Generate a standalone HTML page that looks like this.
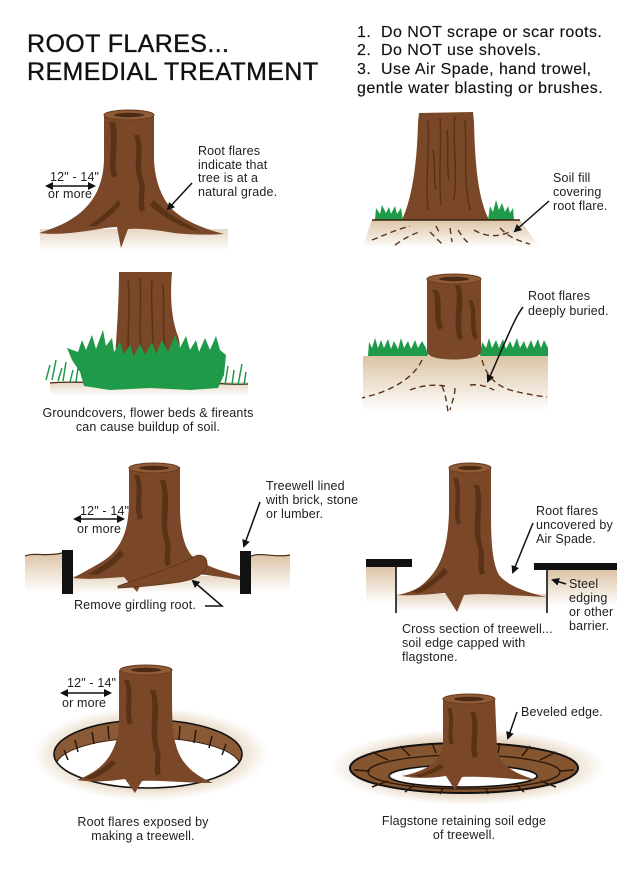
<!DOCTYPE html>
<html><head><meta charset="utf-8"><style>
html,body{margin:0;padding:0;background:#fff;}
svg{display:block;}
text{font-family:"Liberation Sans",sans-serif;fill:#1e1e1e;}
.lb{font-size:12.5px;letter-spacing:0.15px;}
.ttl{font-size:25px;fill:#111;stroke:#111;stroke-width:0.35;letter-spacing:0.4px;}
.lst{font-size:16px;fill:#111;letter-spacing:0.45px;stroke:#111;stroke-width:0.15;}
.ar{stroke:#111;stroke-width:1.5;fill:none;}
.tr{fill:#7a4828;}
.dk{fill:#5a3217;}
.tp{fill:#8e5b36;stroke:#6a3d1e;stroke-width:1;}
.ti{fill:#4a2a12;}
.gr{fill:#1f9a48;}
.dr{stroke:#5a3217;stroke-width:1.4;fill:none;stroke-dasharray:6 4;}
</style></head><body>
<svg width="640" height="873" viewBox="0 0 640 873" xmlns="http://www.w3.org/2000/svg">
<defs>
<marker id="ah" markerWidth="8" markerHeight="8" refX="6" refY="4" orient="auto" markerUnits="userSpaceOnUse">
<path d="M0,0 L8,4 L0,8 Z" fill="#111"/></marker>
<marker id="ah2" markerWidth="8" markerHeight="8" refX="2" refY="4" orient="auto" markerUnits="userSpaceOnUse">
<path d="M8,0 L0,4 L8,8 Z" fill="#111"/></marker>
<linearGradient id="soil" x1="0" y1="0" x2="0" y2="1">
<stop offset="0" stop-color="#dcc4a6"/><stop offset="1" stop-color="#ffffff"/></linearGradient>
<linearGradient id="soil2" x1="0" y1="0" x2="0" y2="1">
<stop offset="0" stop-color="#e6d6c3"/><stop offset="1" stop-color="#ffffff"/></linearGradient>
<radialGradient id="rad" cx="0.5" cy="0.5" r="0.5">
<stop offset="0.6" stop-color="#dfc9af"/><stop offset="1" stop-color="#ffffff"/></radialGradient>
<clipPath id="hole7"><ellipse cx="148" cy="754" rx="94" ry="34"/></clipPath>
</defs>

<!-- Title -->
<text class="ttl" x="27" y="52">ROOT FLARES...</text>
<text class="ttl" x="27" y="80">REMEDIAL TREATMENT</text>
<text class="lst" x="357" y="37">1.&#160; Do NOT scrape or scar roots.</text>
<text class="lst" x="357" y="55">2.&#160; Do NOT use shovels.</text>
<text class="lst" x="357" y="74">3.&#160; Use Air Spade, hand trowel,</text>
<text class="lst" x="357" y="93">gentle water blasting or brushes.</text>

<!-- Panel 1 -->
<rect x="40" y="229" width="188" height="22" fill="url(#soil2)"/>
<path class="tr" d="M104,114 L104,160 C103,190 90,208 70,220 C58,227 48,230 39,233 C55,235 72,233 87,231 C100,229 109,227 117,227 L121,248 L128,229 C142,228 157,230 174,233 C192,235 210,235 224,234 C205,229 186,222 173,210 C161,198 155,180 154,160 L154,114 Z"/>
<path class="dk" d="M109,122 C114,140 107,160 112,178 L117,176 C113,158 120,140 115,122 Z M134,135 C140,150 132,165 138,180 C142,190 136,200 140,212 L145,210 C142,198 147,188 143,178 C138,165 145,150 139,135 Z M118,200 C110,210 100,218 88,226 L96,226 C106,220 115,212 121,204 Z M150,205 C160,215 175,224 192,230 L200,231 C182,222 165,212 154,200 Z"/>
<ellipse class="tp" cx="129" cy="115" rx="25" ry="5"/>
<ellipse class="ti" cx="129" cy="115" rx="15" ry="2.2"/>
<text class="lb" x="50" y="181">12" - 14"</text>
<line class="ar" x1="47" y1="186" x2="94" y2="186" marker-end="url(#ah)" marker-start="url(#ah2)"/>
<text class="lb" x="48" y="198">or more</text>
<text class="lb" x="198" y="155">Root flares</text>
<text class="lb" x="198" y="169">indicate that</text>
<text class="lb" x="198" y="182">tree is at a</text>
<text class="lb" x="198" y="196">natural grade.</text>
<line class="ar" x1="192" y1="183" x2="168" y2="209" marker-end="url(#ah)"/>

<!-- Panel 2 -->
<polygon points="372,220 520,220 540,248 362,248" fill="url(#soil)"/>
<path class="tr" d="M419,113 L473,112 L474,122 C475,165 478,198 489,220 L402,220 C412,198 417,165 418,122 Z"/>
<path d="M428,120 C430,150 425,180 428,210 M440,118 C442,150 438,170 441,205 M455,116 C452,140 458,170 454,200 M465,120 C467,150 463,180 470,210 M433,150 C436,165 433,178 436,190 M447,130 C449,150 446,165 449,180" stroke="#5a3217" stroke-width="1.5" fill="none"/>
<path class="gr" d="M375,220 L376,208 L380,214 L382,205 L386,213 L389,207 L391,214 L395,206 L397,214 L401,208 L403,220 Z"/>
<path class="gr" d="M488,220 L490,206 L493,212 L496,200 L499,210 L502,203 L505,212 L508,206 L510,213 L513,208 L514,220 Z"/>
<line x1="372" y1="220" x2="520" y2="220" stroke="#3a2210" stroke-width="1.5"/>
<path class="dr" d="M372,240 C385,235 395,230 410,226 M395,245 C405,238 412,234 420,232 M430,232 C436,238 440,242 444,246 M450,228 L452,242 M458,230 C462,236 464,240 470,244 M474,230 C484,236 495,238 510,232 M500,228 C508,236 515,240 530,244 M436,226 L440,234"/>
<text class="lb" x="553" y="182">Soil fill</text>
<text class="lb" x="553" y="196">covering</text>
<text class="lb" x="553" y="210">root flare.</text>
<line class="ar" x1="549" y1="201" x2="515" y2="231" marker-end="url(#ah)"/>

<!-- Panel 3 -->
<rect x="50" y="382" width="198" height="14" fill="url(#soil2)"/>
<path d="M50,383 C80,380 120,386 160,383 C200,380 230,386 248,384" stroke="#4a2a12" stroke-width="1.2" fill="none"/>
<path class="tr" d="M119,272 L172,272 C170,295 171,318 178,336 C181,345 180,360 180,375 L114,375 C116,340 119,305 119,272 Z"/>
<path d="M128,280 C131,310 126,340 129,365 M140,278 C142,300 138,330 142,360 M152,280 C150,305 155,330 151,365 M163,285 C165,310 161,335 167,360" stroke="#5a3217" stroke-width="1.5" fill="none"/>
<path class="gr" d="M67,348 L78,352 L82,340 L86,350 L92,335 L96,349 L103,330 L106,346 L112,338 L114,352 L120,342 L124,354 L130,345 L134,356 L140,344 L145,355 L152,342 L156,354 L162,340 L168,352 L175,335 L180,348 L186,336 L190,350 L196,340 L199,352 L205,338 L210,350 L216,336 L220,350 L226,355 L224,375 L218,388 L190,390 L150,388 L110,390 L84,386 L80,372 L72,360 Z"/>
<path d="M46,380 L50,365 M52,380 L56,360 M58,381 L62,368 M63,381 L66,362 M70,382 L73,370 M76,382 L78,368 M218,384 L221,368 M225,385 L228,366 M232,385 L234,370 M238,385 L242,364 M244,385 L246,372" stroke="#1f9a48" stroke-width="1.5"/>
<text class="lb" x="148" y="417" text-anchor="middle">Groundcovers, flower beds &amp; fireants</text>
<text class="lb" x="148" y="431" text-anchor="middle">can cause buildup of soil.</text>

<!-- Panel 4 -->
<rect x="363" y="356" width="185" height="56" fill="url(#soil)"/>
<path class="gr" d="M368,356 L369,342 L372,348 L375,338 L378,348 L381,340 L384,348 L388,339 L391,349 L394,341 L398,349 L401,338 L404,348 L408,341 L411,349 L415,340 L418,348 L422,341 L426,348 L428,356 Z"/>
<path class="gr" d="M480,356 L482,342 L486,348 L489,338 L492,348 L496,340 L499,348 L503,339 L506,349 L510,341 L513,348 L517,338 L520,348 L524,341 L527,349 L531,340 L534,348 L538,339 L541,348 L544,340 L548,348 L548,356 Z"/>
<path class="tr" d="M427,279 L481,279 L481,352 C481,362 427,362 427,352 Z"/>
<path class="dk" d="M432,290 C438,300 432,315 438,330 L443,328 C438,315 444,300 437,290 Z M455,285 C460,300 452,320 458,340 L463,338 C458,320 466,300 460,285 Z M468,300 C474,310 468,325 474,340 L478,338 C473,325 478,310 472,300 Z"/>
<ellipse class="tp" cx="454" cy="279" rx="27" ry="5"/>
<ellipse class="ti" cx="454" cy="279" rx="15" ry="2.2"/>
<path class="dr" d="M422,360 C415,375 400,385 382,392 C375,395 368,396 362,398 M410,390 C420,386 432,384 445,386 M442,386 C446,395 447,405 448,412 M455,388 C455,395 452,402 450,410 M482,360 C486,375 495,385 510,390 C525,394 538,396 547,397 M470,385 C478,384 486,386 494,390"/>
<text class="lb" x="528" y="300">Root flares</text>
<text class="lb" x="528" y="315">deeply buried.</text>
<path class="ar" d="M523,307 C516,316 512,326 488,381" marker-end="url(#ah)"/>

<!-- Panel 5 -->
<path d="M25,556 C35,552 45,557 62,553 L62,592 L25,592 Z" fill="url(#soil)"/>
<path d="M251,556 C262,552 275,558 290,555 L290,592 L251,592 Z" fill="url(#soil)"/>
<path d="M25,556 C35,552 45,557 62,553 M251,556 C262,552 275,558 290,555" stroke="#4a2a12" stroke-width="1.2" fill="none"/>
<rect x="73" y="576" width="167" height="18" fill="url(#soil2)"/>
<path class="tr" d="M129,467 L129,505 C128,535 119,552 100,563 C88,570 80,574 73,578 C90,580 106,578 124,577 L137,592 L144,578 C160,575 180,573 198,574 C215,576 228,578 240,580 L240,576 C222,571 204,566 192,556 C183,545 180,528 180,505 L180,467 Z"/>
<path class="dk" d="M134,475 C140,490 133,505 138,520 L143,518 C138,505 145,490 139,475 Z M160,480 C166,500 158,520 164,540 C168,550 162,558 166,566 L171,564 C168,555 173,548 169,538 C164,520 172,500 165,480 Z M120,550 C112,560 100,568 88,574 L96,575 C108,570 118,562 124,554 Z"/>
<path class="tr" d="M118,586 C140,578 168,570 192,558 C200,552 208,556 207,566 C205,574 196,579 180,582 C160,585 140,587 118,588 Z" stroke="#5a3217" stroke-width="0.8"/>
<ellipse class="tp" cx="154" cy="468" rx="25" ry="5"/>
<ellipse class="ti" cx="154" cy="468" rx="15" ry="2.2"/>
<rect x="62" y="550" width="11" height="44" fill="#111"/>
<rect x="240" y="551" width="11" height="43" fill="#111"/>
<text class="lb" x="80" y="515">12" - 14"</text>
<line class="ar" x1="75" y1="519" x2="123" y2="519" marker-end="url(#ah)" marker-start="url(#ah2)"/>
<text class="lb" x="77" y="533">or more</text>
<text class="lb" x="266" y="490">Treewell lined</text>
<text class="lb" x="266" y="504">with brick, stone</text>
<text class="lb" x="266" y="518">or lumber.</text>
<line class="ar" x1="260" y1="502" x2="244" y2="546" marker-end="url(#ah)"/>
<text class="lb" x="74" y="609">Remove girdling root.</text>
<path class="ar" d="M205,606 L222,606 L193,581" marker-end="url(#ah)"/>

<!-- Panel 6 -->
<rect x="366" y="567" width="30" height="36" fill="url(#soil)"/>
<rect x="547" y="570" width="70" height="36" fill="url(#soil)"/>
<rect x="396" y="594" width="151" height="18" fill="url(#soil2)"/>
<path class="tr" d="M449,468 L449,512 C448,550 440,570 422,585 C414,591 406,593 398,595 C414,596 430,594 445,593 L457,612 L464,595 C482,593 505,595 546,597 C526,592 508,586 499,575 C492,562 491,540 491,512 L491,468 Z"/>
<path class="dk" d="M453,478 C459,495 452,510 457,525 L461,523 C457,510 463,495 458,478 Z M474,485 C479,505 471,525 477,545 C481,555 476,565 480,575 L485,573 C482,563 486,555 482,545 C477,525 485,505 479,485 Z M444,568 C436,578 424,586 412,592 L420,593 C430,588 440,580 448,572 Z"/>
<ellipse class="tp" cx="470" cy="468" rx="21" ry="5"/>
<ellipse class="ti" cx="470" cy="468" rx="12" ry="2"/>
<rect x="366" y="559" width="46" height="8" fill="#111"/>
<line x1="396" y1="567" x2="396" y2="613" stroke="#111" stroke-width="1.6"/>
<rect x="534" y="563" width="83" height="7" fill="#111"/>
<line x1="547" y1="570" x2="547" y2="613" stroke="#111" stroke-width="1.6"/>
<text class="lb" x="536" y="515">Root flares</text>
<text class="lb" x="536" y="529">uncovered by</text>
<text class="lb" x="536" y="543">Air Spade.</text>
<line class="ar" x1="533" y1="523" x2="513" y2="572" marker-end="url(#ah)"/>
<text class="lb" x="569" y="588">Steel</text>
<text class="lb" x="569" y="602">edging</text>
<text class="lb" x="569" y="616">or other</text>
<text class="lb" x="569" y="630">barrier.</text>
<line class="ar" x1="566" y1="584" x2="553" y2="580" marker-end="url(#ah)"/>
<text class="lb" x="402" y="633">Cross section of treewell...</text>
<text class="lb" x="402" y="647">soil edge capped with</text>
<text class="lb" x="402" y="661">flagstone.</text>

<!-- Panel 7 -->
<ellipse cx="150" cy="754" rx="118" ry="47" fill="url(#rad)"/>
<ellipse cx="148" cy="754" rx="94" ry="34" fill="#8a5a36"/>
<g clip-path="url(#hole7)">
<ellipse cx="148" cy="766" rx="92" ry="28" fill="#fff" stroke="#3a2210" stroke-width="1"/>
<path d="M75,740 L78,752 M92,732 L94,744 M108,726 L109,739 M180,726 L179,739 M196,730 L194,743 M212,736 L209,748 M226,744 L222,755 M64,750 L68,760" stroke="#2a180a" stroke-width="1.5"/>
</g>
<ellipse cx="148" cy="754" rx="94" ry="34" fill="none" stroke="#111" stroke-width="1.6"/>
<path class="tr" d="M119,670 L119,722 C118,752 104,770 77,780 C95,783 110,781 125,779 L135,793 L142,781 C160,780 185,783 213,783 C196,776 181,765 176,745 C172,730 172,720 172,670 Z"/>
<path class="dk" d="M124,680 C130,695 123,710 128,725 L133,723 C128,710 135,695 129,680 Z M150,690 C156,710 148,730 154,750 C158,760 152,768 156,776 L161,774 C158,765 163,758 159,748 C154,730 162,710 155,690 Z M112,760 C104,768 94,774 84,778 L92,779 C102,775 110,769 116,763 Z"/>
<ellipse class="tp" cx="146" cy="670" rx="26" ry="5"/>
<ellipse class="ti" cx="146" cy="670" rx="15" ry="2.2"/>
<text class="lb" x="67" y="687">12" - 14"</text>
<line class="ar" x1="62" y1="693" x2="110" y2="693" marker-end="url(#ah)" marker-start="url(#ah2)"/>
<text class="lb" x="62" y="707">or more</text>
<text class="lb" x="143" y="826" text-anchor="middle">Root flares exposed by</text>
<text class="lb" x="143" y="840" text-anchor="middle">making a treewell.</text>

<!-- Panel 8 -->
<ellipse cx="468" cy="767" rx="137" ry="38" fill="url(#rad)"/>
<ellipse cx="464" cy="768" rx="114" ry="25" fill="#855530" stroke="#111" stroke-width="2"/>
<ellipse cx="464" cy="772" rx="96" ry="17" fill="none" stroke="#2a180a" stroke-width="1.3"/>
<path d="M372,752 L388,760 M400,746 L410,756 M432,743 L436,753 M500,743 L498,753 M530,746 L522,756 M556,752 L540,760 M354,770 L370,771 M574,770 L560,771 M372,787 L388,781 M405,792 L414,785 M440,794 L443,788 M488,794 L486,788 M524,792 L516,785 M556,787 L541,781" stroke="#2a180a" stroke-width="1.5"/>
<ellipse cx="463" cy="776" rx="74" ry="11" fill="#fff" stroke="#111" stroke-width="1.6"/>
<path class="tr" d="M443,699 L443,742 C442,760 430,770 402,776 C417,779 432,778 446,776 L455,790 L462,777 C482,776 510,779 536,780 C516,774 500,766 497,750 L495,699 Z"/>
<path class="dk" d="M447,708 C452,720 446,733 450,745 L454,743 C450,733 456,720 451,708 Z M470,712 C476,728 468,742 473,758 L478,756 C474,742 481,728 475,712 Z M440,764 C432,770 422,774 412,776 L420,777 C430,775 438,771 444,767 Z"/>
<ellipse class="tp" cx="469" cy="699" rx="26" ry="5"/>
<ellipse class="ti" cx="469" cy="699" rx="15" ry="2.2"/>
<text class="lb" x="521" y="716">Beveled edge.</text>
<line class="ar" x1="517" y1="712" x2="508" y2="738" marker-end="url(#ah)"/>
<text class="lb" x="464" y="825" text-anchor="middle">Flagstone retaining soil edge</text>
<text class="lb" x="464" y="839" text-anchor="middle">of treewell.</text>
</svg>
</body></html>
